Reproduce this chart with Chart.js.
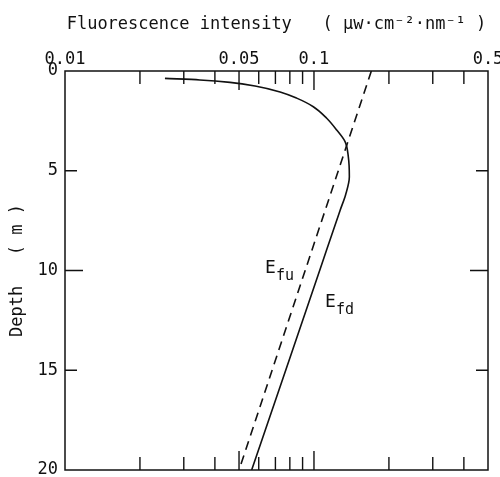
<!DOCTYPE html>
<html>
<head>
<meta charset="utf-8">
<script src="https://cdn.jsdelivr.net/npm/chart.js@4.4.1/dist/chart.umd.min.js"></script>
<style>
  body { margin: 0; background: #fff; }
  canvas { display: block; }
</style>
</head>
<body>
<canvas id="grafico" width="500" height="477"></canvas>
<script>
// Datos (profundidad en m, intensidad en uW cm-2 nm-1)
const depthFd = [0.37, 0.45, 0.57, 0.75, 1.05, 1.36, 1.79, 2.37, 2.96, 3.54, 4.3, 5.3, 6.2, 7.0, 10, 15, 20];
const efd = [0.0252, 0.0348, 0.046, 0.058, 0.0731, 0.0852, 0.0994, 0.1125, 0.1234, 0.1333, 0.1374, 0.1387, 0.134, 0.1272, 0.1054, 0.077, 0.0562];

const depthFu = [0, 20];
const efu = [0.17, 0.05];

// Marcas de los ejes
const xTicks = [0.01, 0.02, 0.03, 0.04, 0.05, 0.06, 0.07, 0.08, 0.09, 0.1, 0.2, 0.3, 0.4, 0.5];
const xLabels = [0.01, 0.05, 0.1, 0.5];
const xMajor = [0.05, 0.1];
const yTicks = [0, 5, 10, 15, 20];
const yMajor = [10];

const fuente = "'DejaVu Sans Mono', monospace";
const tinta = "#111";

// Marcas hacia adentro en los cuatro lados, marco y etiquetas de las curvas
const marcoPlugin = {
  id: "marco",
  afterDraw(chart) {
    const { ctx, chartArea: a, scales } = chart;
    ctx.save();
    ctx.strokeStyle = tinta;
    ctx.lineWidth = 1.5;
    ctx.strokeRect(a.left, a.top, a.right - a.left, a.bottom - a.top);

    ctx.lineWidth = 1.4;
    ctx.beginPath();
    xTicks.forEach(v => {
      if (v === 0.01 || v === 0.5) return;
      const px = scales.x.getPixelForValue(v);
      const len = xMajor.includes(v) ? 19 : 13;
      ctx.moveTo(px, a.top); ctx.lineTo(px, a.top + len);
      ctx.moveTo(px, a.bottom); ctx.lineTo(px, a.bottom - len);
    });
    yTicks.forEach(v => {
      if (v === 0 || v === 20) return;
      const py = scales.y.getPixelForValue(v);
      const len = yMajor.includes(v) ? 18 : 12;
      ctx.moveTo(a.left, py); ctx.lineTo(a.left + len, py);
      ctx.moveTo(a.right, py); ctx.lineTo(a.right - len, py);
    });
    ctx.stroke();

    // Etiquetas E_fu y E_fd
    ctx.fillStyle = tinta;
    ctx.textBaseline = "alphabetic";
    ctx.font = "18px " + fuente;
    ctx.fillText("E", 265, 273);
    ctx.fillText("E", 325, 307);
    ctx.font = "15px " + fuente;
    ctx.fillText("fu", 276, 280);
    ctx.fillText("fd", 336, 314);
    ctx.restore();
  }
};

const ctx = document.getElementById("grafico").getContext("2d");
new Chart(ctx, {
  type: "scatter",
  data: {
    datasets: [
      {
        label: "Efd",
        data: depthFd.map((d, i) => ({ x: efd[i], y: d })),
        indexAxis: "y",
        showLine: true,
        borderColor: tinta,
        borderWidth: 1.6,
        pointRadius: 0,
        cubicInterpolationMode: "monotone"
      },
      {
        label: "Efu",
        data: depthFu.map((d, i) => ({ x: efu[i], y: d })),
        showLine: true,
        borderColor: tinta,
        borderWidth: 1.6,
        borderDash: [9, 6],
        pointRadius: 0
      }
    ]
  },
  options: {
    responsive: false,
    animation: false,
    layout: { padding: { left: 0, top: 0, right: 12, bottom: 7 } },
    plugins: {
      legend: { display: false },
      tooltip: { enabled: false }
    },
    scales: {
      x: {
        type: "logarithmic",
        position: "top",
        min: 0.01,
        max: 0.5,
        afterBuildTicks: s => { s.ticks = xTicks.map(v => ({ value: v })); },
        afterFit: s => { s.height = 71; s.paddingLeft = 0; s.paddingRight = 0; },
        grid: { display: false, drawTicks: false },
        border: { display: false },
        ticks: {
          autoSkip: false,
          maxRotation: 0,
          padding: 1,
          color: tinta,
          font: { family: fuente, size: 17 },
          callback: v => xLabels.includes(v) ? String(v) : ""
        },
        title: {
          display: true,
          text: "Fluorescence intensity   ( μw·cm⁻²·nm⁻¹ )",
          color: tinta,
          font: { family: fuente, size: 17 },
          padding: { top: 14, bottom: 0 }
        }
      },
      y: {
        type: "linear",
        reverse: true,
        min: 0,
        max: 20,
        afterBuildTicks: s => { s.ticks = yTicks.map(v => ({ value: v })); },
        afterFit: s => { s.width = 65; s.paddingTop = 0; s.paddingBottom = 0; },
        grid: { display: false, drawTicks: false },
        border: { display: false },
        ticks: {
          padding: 7,
          color: tinta,
          font: { family: fuente, size: 17 }
        },
        title: {
          display: true,
          text: "Depth   ( m )",
          color: tinta,
          font: { family: fuente, size: 17 },
          padding: { top: 7, bottom: 0 }
        }
      }
    }
  },
  plugins: [marcoPlugin]
});
</script>
</body>
</html>
